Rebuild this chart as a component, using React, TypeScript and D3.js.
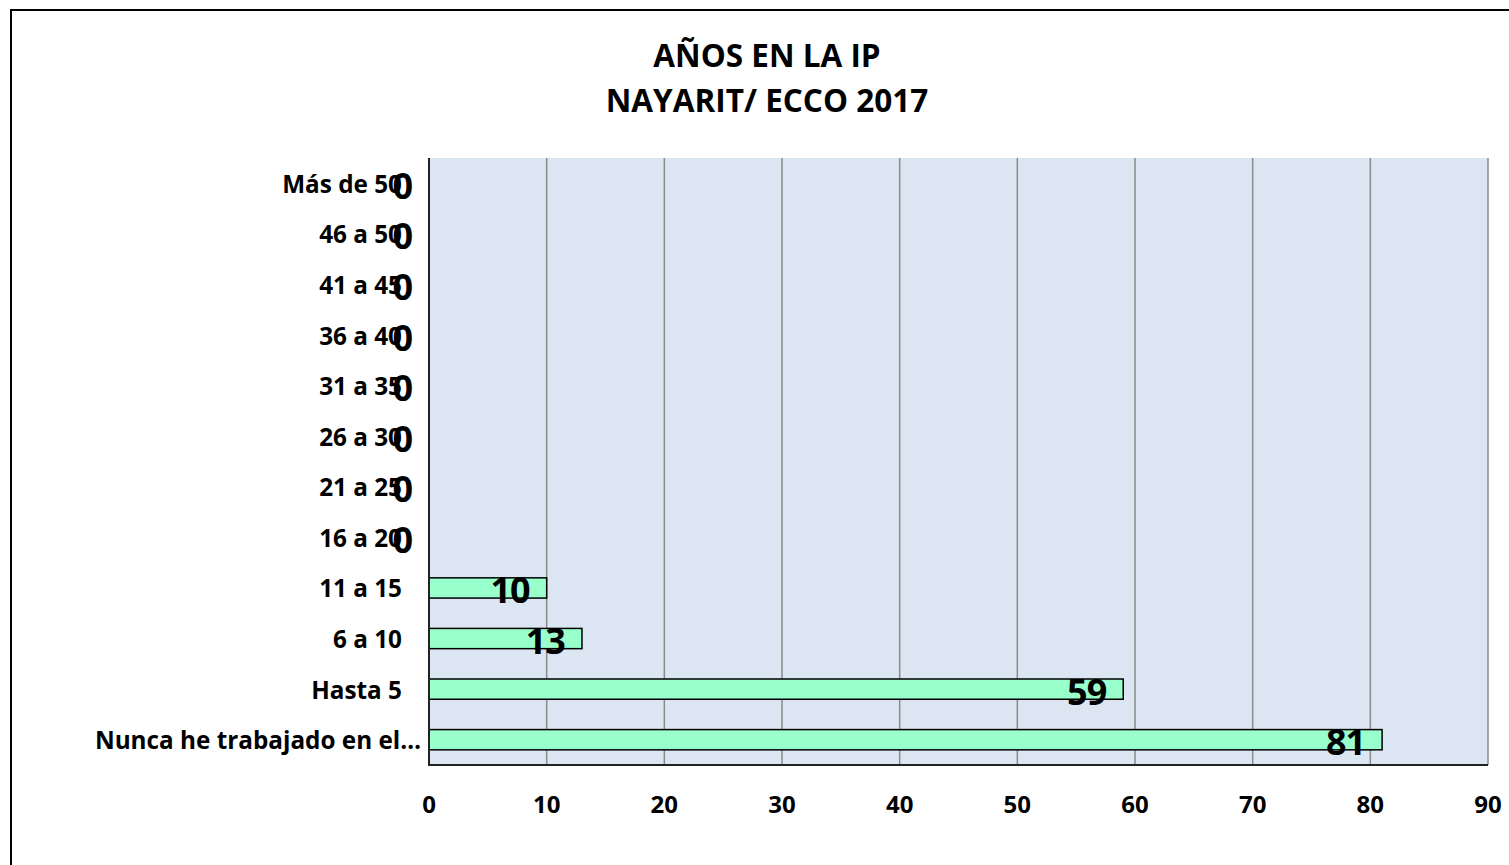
import React from "react";
import * as d3 from "d3";

const categories = [
  "Nunca he trabajado en el…",
  "Hasta 5",
  "6 a 10",
  "11 a 15",
  "16 a 20",
  "21 a 25",
  "26 a 30",
  "31 a 35",
  "36 a 40",
  "41 a 45",
  "46 a 50",
  "Más de 50",
];
const values = [81, 59, 13, 10, 0, 0, 0, 0, 0, 0, 0, 0];
const xTicks = [0, 10, 20, 30, 40, 50, 60, 70, 80, 90];
const titleLines = ["AÑOS EN LA IP", "NAYARIT/ ECCO 2017"];

const W = 1509;
const H = 865;
const plot = { left: 429, right: 1488, top: 158, bottom: 765 };
const FONT = "'Open Sans', 'Noto Sans', sans-serif";

export default function App() {
  const x = d3.scaleLinear().domain([0, 90]).range([plot.left, plot.right]);
  const y = d3
    .scaleBand<string>()
    .domain([...categories].reverse())
    .range([plot.top, plot.bottom])
    .paddingInner(0.6)
    .paddingOuter(0.3);
  const bw = y.bandwidth();

  return (
    <svg
      width={W}
      height={H}
      style={{ position: "absolute", left: 0, top: 0, background: "#fff" }}
    >
      <rect x={11} y={10} width={W + 20} height={H + 20} fill="#fff" stroke="#000" strokeWidth={2} />
      {titleLines.map((t, i) => (
        <text
          key={t}
          x={767}
          y={54 + i * 45}
          textAnchor="middle"
          dominantBaseline="central"
          fontFamily={FONT}
          fontWeight={700}
          fontSize={31.5}
          fill="#000"
        >
          {t}
        </text>
      ))}
      <rect
        x={plot.left}
        y={plot.top}
        width={plot.right - plot.left}
        height={plot.bottom - plot.top}
        fill="#DCE6F2"
      />
      {xTicks.slice(1).map((t) => (
        <line
          key={t}
          x1={x(t)}
          x2={x(t)}
          y1={plot.top}
          y2={plot.bottom}
          stroke="#8a8a8a"
          strokeWidth={1.5}
        />
      ))}
      {categories.map((c, i) => (
        <rect
          key={c}
          x={x(0)}
          y={y(c)!}
          width={x(values[i]) - x(0)}
          height={bw}
          fill="#99FFCC"
          stroke="#000"
          strokeWidth={1.5}
          opacity={values[i] > 0 ? 1 : 0}
        />
      ))}
      <line x1={plot.left} x2={plot.left} y1={plot.top} y2={plot.bottom + 1} stroke="#222" strokeWidth={2} />
      <line x1={plot.left - 1} x2={plot.right} y1={plot.bottom} y2={plot.bottom} stroke="#222" strokeWidth={2} />
      {xTicks.map((t) => (
        <text
          key={t}
          x={x(t)}
          y={803}
          textAnchor="middle"
          dominantBaseline="central"
          fontFamily={FONT}
          fontWeight={700}
          fontSize={24}
          fill="#000"
        >
          {t}
        </text>
      ))}
      {categories.map((c) => (
        <text
          key={c}
          x={c.endsWith("…") ? 421 : 402}
          y={y(c)! + bw / 2}
          textAnchor="end"
          dominantBaseline="central"
          fontFamily={FONT}
          fontWeight={700}
          fontSize={24.3}
          fill="#000"
        >
          {c}
        </text>
      ))}
      {categories.map((c, i) => (
        <text
          key={"v" + c}
          x={x(values[i]) - 17}
          y={y(c)! + bw / 2 + 2}
          textAnchor="end"
          dominantBaseline="central"
          fontFamily={FONT}
          fontWeight={700}
          fontSize={36}
          letterSpacing={-1}
          fill="#000"
        >
          {values[i]}
        </text>
      ))}
    </svg>
  );
}
